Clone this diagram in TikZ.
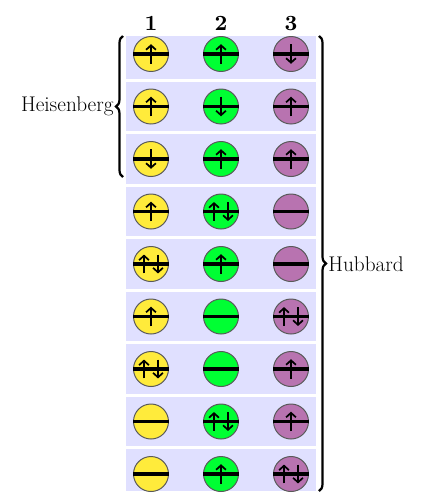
\documentclass[tikz,border=0pt]{standalone}
\usepackage{xcolor}
\usepackage{tikz}
\usetikzlibrary{positioning,arrows.meta,decorations.pathreplacing}

\definecolor{siteone}{HTML}{FFEB3B}
\definecolor{sitetwo}{HTML}{00FF33}
\definecolor{sitethree}{HTML}{B873B0}
\definecolor{bandblue}{HTML}{E0E0FF}

\tikzset{
  site/.style={circle,draw=black!65,line width=0.4pt,minimum size=0.5cm,inner sep=0pt},
  level/.style={black,line width=1.5pt},
  spin/.style={black,line width=0.7pt,-{Straight Barb[length=1.8pt,width=4pt,line width=0.7pt]}},
  bracket/.style={black,line width=0.9pt,decorate,decoration={brace,amplitude=2.85pt}},
  lbl/.style={font=\fontsize{17.28}{20}\selectfont,scale=0.5,inner sep=0pt},
  head/.style={font=\fontsize{8.8}{10}\selectfont\bfseries,inner sep=0pt}
}

% one macro per occupation of a site
\newcommand{\levelbar}[1]{\draw[level] (#1.west) -- (#1.east);}
\newcommand{\spinu}[1]{\levelbar{#1}
  \draw[spin] ([yshift=-0.14cm]#1.center) -- ([yshift=0.14cm]#1.center);}
\newcommand{\spind}[1]{\levelbar{#1}
  \draw[spin] ([yshift=0.14cm]#1.center) -- ([yshift=-0.14cm]#1.center);}
\newcommand{\spinp}[1]{\levelbar{#1}
  \draw[spin] ([xshift=-0.1cm,yshift=-0.135cm]#1.center) -- ([xshift=-0.1cm,yshift=0.135cm]#1.center);
  \draw[spin] ([xshift=0.1cm,yshift=0.135cm]#1.center) -- ([xshift=0.1cm,yshift=-0.135cm]#1.center);}
\newcommand{\spine}[1]{\levelbar{#1}}

\begin{document}
\begin{tikzpicture}[x=1cm,y=0.75cm]

\useasboundingbox (-1.157,0.0285) rectangle (4.843,-9.495);

% bands
\fill[bandblue] (0.643,-0.657) rectangle (3.357,-9.324);
\foreach \r in {1,...,8}{
  \draw[white,line width=1.2pt] (0.6,-\r-0.5) -- (3.4,-\r-0.5);
}

% sites
\foreach \r/\a/\b/\c in {1/u/u/d,2/u/d/u,3/d/u/u,4/u/p/e,5/p/u/e,6/u/e/p,7/p/e/u,8/e/p/u,9/e/u/p}{
  \node[site,fill=siteone] (s\r a) at (1,-\r) {};
  \node[site,fill=sitetwo] (s\r b) at (2,-\r) {};
  \node[site,fill=sitethree] (s\r c) at (3,-\r) {};
  \csname spin\a\endcsname{s\r a}
  \csname spin\b\endcsname{s\r b}
  \csname spin\c\endcsname{s\r c}
}

% column numbers
\node[head,above=0.07cm of s1a] (col1) {1};
\node[head,above=0.07cm of s1b] (col2) {2};
\node[head,above=0.07cm of s1c] (col3) {3};

% braces
\coordinate (hsbot) at (0.6,-3.343);
\coordinate (hstop) at (0.6,-0.657);
\coordinate (hbtop) at (3.4,-0.657);
\coordinate (hbbot) at (3.4,-9.324);
\draw[bracket] (hsbot) -- (hstop);
\draw[bracket] (hbtop) -- (hbbot);

\node[lbl,anchor=east] (heis) at (0.47,-2) {Heisenberg};
\node[lbl,anchor=west] (hubb) at (3.53,-5) {Hubbard};

\end{tikzpicture}
\end{document}
